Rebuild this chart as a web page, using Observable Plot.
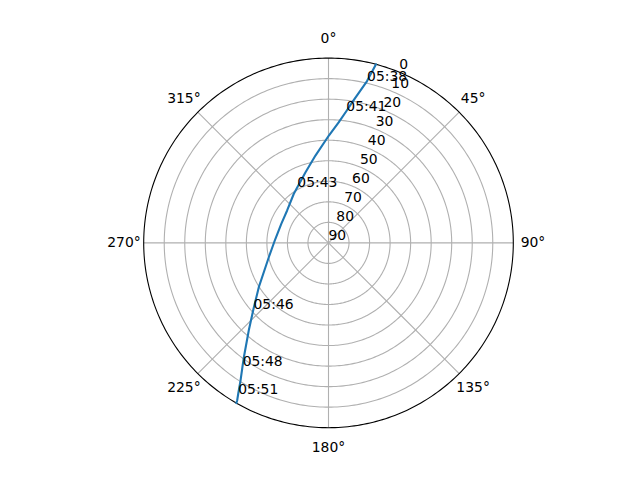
<!DOCTYPE html>
<html>
<head>
<meta charset="utf-8">
<script src="https://cdn.jsdelivr.net/npm/d3@7"></script>
<script src="https://cdn.jsdelivr.net/npm/@observablehq/plot@0.6"></script>
<style>
  html, body { margin: 0; padding: 0; background: #fff; }
</style>
</head>
<body>
<div id="chart"></div>
<script>
// Satellite pass: azimuth (degrees, clockwise from north) and elevation (degrees)
const trackAz = [14.9, 13.4, 9.6, 7.7, 4.9, 0.2, 351.5, 342.0, 330.8, 324.8, 308.1, 292.0, 273.9, 256.5, 237.6, 228.7, 222.3, 216.5, 215.0, 212.6, 210.9, 210.1, 209.9];
const trackEl = [0, 9.0, 20.5, 25.3, 31.0, 37.7, 47.0, 53.8, 58.9, 60.7, 64.4, 65.2, 64.0, 60.1, 49.8, 41.4, 32.3, 20.7, 17.1, 10.5, 4.4, 1.3, 0];

// Time labels along the pass
const labelTimes = ["05:38", "05:41", "05:43", "05:46", "05:48", "05:51"];
const labelAz = [13.4, 7.7, 330.8, 228.7, 215.0, 210.9];
const labelEl = [9.0, 25.3, 58.9, 41.4, 17.1, 4.4];

// Ticks
const angleTicks = [0, 45, 90, 135, 180, 225, 270, 315];
const elevationTicks = [0, 10, 20, 30, 40, 50, 60, 70, 80, 90];
const radialLabelAngle = 22.5;

const track = trackAz.map((az, i) => ({az, el: trackEl[i]}));
const labels = labelTimes.map((t, i) => ({t, az: labelAz[i], el: labelEl[i]}));

const ring = (el) => d3.geoCircle().center([0, 90]).radius(90 - el).precision(1)();
const gridRings = elevationTicks.filter(e => e > 0 && e < 90).map(ring);
const outline = ring(0);

const R = 184.8;                       // pixel radius of the plot circle
const angleLabelEl = 90 - 204.5 * 90 / R; // theta labels just outside the circle

const gridColor = "#b0b0b0";
const fs = 13.9;

const chart = Plot.plot({
  width: 640,
  height: 480,
  marginTop: 57.6,
  marginBottom: 52.8,
  marginLeft: 143.2,
  marginRight: 127.2,
  projection: {
    type: () => d3.geoAzimuthalEquidistant().rotate([0, -90]).reflectY(true).clipAngle(175),
    domain: d3.geoCircle().center([0, 90]).radius(90)(),
    clip: false
  },
  style: {fontFamily: "'DejaVu Sans', sans-serif", background: "white", color: "black"},
  marks: [
    Plot.geo(gridRings, {stroke: gridColor, strokeWidth: 1.1, fill: "none"}),
    Plot.link(angleTicks, {x1: d => d, y1: () => 90, x2: d => d, y2: () => 0, stroke: gridColor, strokeWidth: 1.1}),
    Plot.geo([outline], {stroke: "black", strokeWidth: 1.1, fill: "none"}),
    Plot.line(track, {x: "az", y: "el", curve: "linear", stroke: "#1f77b4", strokeWidth: 2.1}),
    Plot.text(elevationTicks, {x: () => radialLabelAngle, y: d => d, text: d => String(d), textAnchor: "start", lineAnchor: "bottom", dy: -3, fontSize: fs, fill: "black"}),
    Plot.text(labels, {x: "az", y: "el", text: "t", textAnchor: "start", lineAnchor: "bottom", fontSize: fs, fill: "black"}),
    Plot.text(angleTicks, {x: d => d, y: () => angleLabelEl, text: d => d + "°", textAnchor: "middle", lineAnchor: "middle", fontSize: fs, fill: "black"})
  ]
});

document.getElementById("chart").appendChild(chart);
</script>
</body>
</html>
